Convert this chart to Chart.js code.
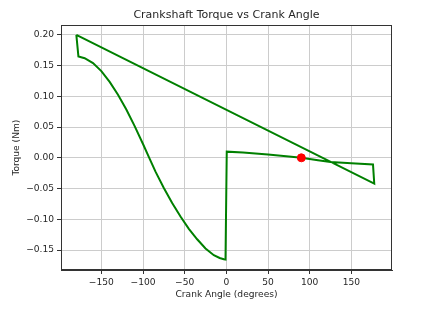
<!DOCTYPE html>
<html>
<head>
<meta charset="utf-8">
<script src="https://cdn.jsdelivr.net/npm/chart.js@4/dist/chart.umd.min.js"></script>
<style>
html,body{margin:0;padding:0;background:#fff;}
canvas{display:block;}
</style>
</head>
<body>
<canvas id="c" width="424" height="314"></canvas>
<script>
// Torque curve, in drawing order (closed loop)
const crankAngle = [-180, -177.5, -170, -160, -150, -140, -130, -120, -110, -100, -92.5, -85, -75, -65, -55, -45, -35, -25, -15, -8, -3, -1,
  0.5, 20, 50, 75, 90, 110, 125, 150, 176, 177.5, -180];
const torque = [0.200, 0.165, 0.162, 0.154, 0.141, 0.1235, 0.1025, 0.0785, 0.0515, 0.0225, 0.000, -0.0225, -0.049, -0.0735, -0.0955, -0.1155, -0.1325, -0.1475, -0.1585, -0.1630, -0.1650, -0.1655,
  0.010, 0.0088, 0.0055, 0.002, 0.000, -0.004, -0.007, -0.009, -0.011, -0.042, 0.200];
// Current operating point
const markerAngle = [90];
const markerTorque = [0.0];
// Tick labels
const xTicks = [-150, -100, -50, 0, 50, 100, 150];
const yTicks = [-0.15, -0.10, -0.05, 0.00, 0.05, 0.10, 0.15, 0.20];

const FONT = 'DejaVu Sans';
const TXT = '#262626';
const fmtMinus = (s, v) => (v < 0 ? '\u2212' : '') + s;

const framePlugin = {
  id: 'frame',
  afterDatasetsDraw(chart) {
    const {ctx, chartArea: a} = chart;
    ctx.save();
    ctx.strokeStyle = '#333';
    ctx.lineWidth = 1;
    ctx.strokeRect(Math.round(a.left) + 0.5, Math.round(a.top) + 0.5, Math.round(a.right - a.left) - 1, Math.round(a.bottom - a.top) - 1);
    ctx.restore();
  }
};

new Chart(document.getElementById('c'), {
  type: 'scatter',
  data: {
    datasets: [
      {
        data: markerAngle.map((x, i) => ({x, y: markerTorque[i]})),
        backgroundColor: 'red',
        borderColor: 'red',
        pointRadius: 4,
        pointHoverRadius: 4,
        order: 0
      },
      {
        data: crankAngle.map((x, i) => ({x, y: torque[i]})),
        showLine: true,
        borderColor: 'green',
        backgroundColor: 'green',
        borderWidth: 2,
        pointRadius: 0,
        tension: 0,
        fill: false,
        order: 1
      }
    ]
  },
  options: {
    responsive: false,
    devicePixelRatio: 1,
    animation: false,
    layout: {padding: {left: 0, right: 32, top: 0, bottom: 0}},
    plugins: {
      legend: {display: false},
      tooltip: {enabled: false},
      title: {
        display: true,
        text: 'Crankshaft Torque vs Crank Angle',
        color: TXT,
        font: {family: FONT, size: 11, weight: 'normal'},
        padding: {top: 9, bottom: 3},
        fullSize: false
      }
    },
    scales: {
      x: {
        type: 'linear',
        min: -198.4,
        max: 198.8,
        afterBuildTicks: s => { s.ticks = xTicks.map(v => ({value: v})); },
        afterFit: s => { s.height = 44; },
        grid: {color: '#cccccc', lineWidth: 1, tickColor: '#333', tickLength: 4, drawTicks: true},
        border: {display: true, color: '#333'},
        ticks: {
          color: TXT, font: {family: FONT, size: 9.1}, padding: 3, maxRotation: 0,
          callback: v => fmtMinus(String(Math.abs(v)), v)
        },
        title: {
          display: true, text: 'Crank Angle (degrees)', color: TXT,
          font: {family: FONT, size: 9.1}, padding: {top: 0, bottom: 14}
        }
      },
      y: {
        type: 'linear',
        min: -0.1825,
        max: 0.2157,
        afterBuildTicks: s => { s.ticks = yTicks.map(v => ({value: v})); },
        afterFit: s => { s.width = 61; },
        grid: {color: '#cccccc', lineWidth: 1, tickColor: '#333', tickLength: 4, drawTicks: true},
        border: {display: true, color: '#333'},
        ticks: {
          color: TXT, font: {family: FONT, size: 9.1}, padding: 3,
          callback: v => fmtMinus(Math.abs(v).toFixed(2), v < -1e-9 ? -1 : 1)
        },
        title: {
          display: true, text: 'Torque (Nm)', color: TXT,
          font: {family: FONT, size: 9.1}, padding: {top: 11, bottom: 0}
        }
      }
    }
  },
  plugins: [framePlugin]
});
</script>
</body>
</html>
